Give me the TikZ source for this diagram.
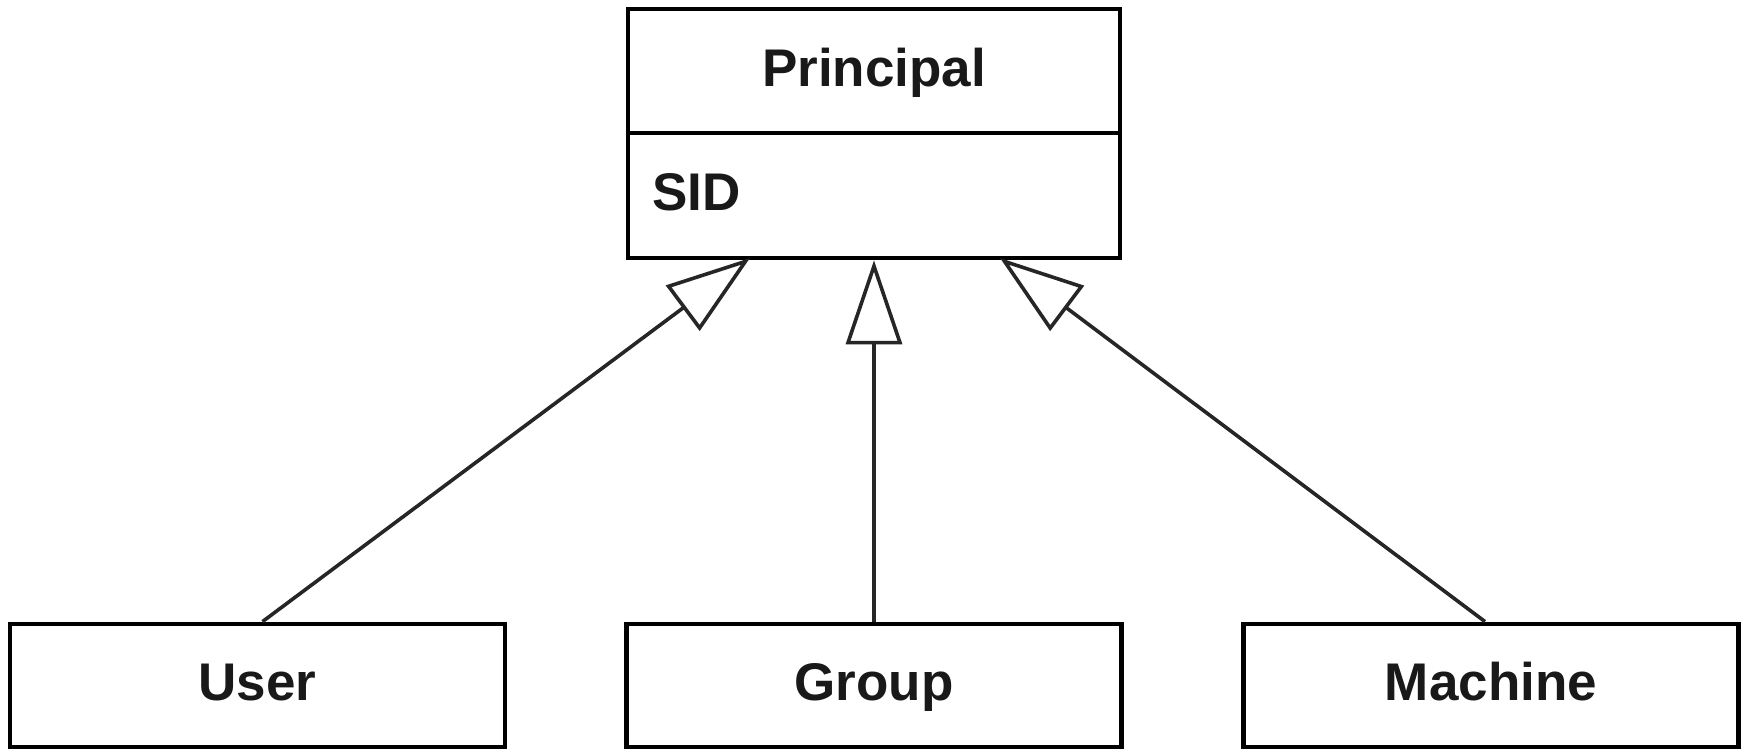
\documentclass[tikz,border=0pt]{standalone}
\usepackage{fontspec}
\setmainfont{Liberation Sans}
\usetikzlibrary{arrows.meta}
\begin{document}
\begin{tikzpicture}[x=0.5pt,y=-0.5pt,
  umlfont/.style={font=\bfseries\fontsize{26.5}{30}\selectfont, text=black!90},
  classbox/.style={draw=black, line width=2.4pt, fill=white, inner sep=0pt,
    minimum width=247.5pt, minimum height=61.5pt, umlfont,
    text height=19pt, text depth=4.5pt},
  inherits/.style={draw=black!85, line width=1.8pt,
    -{Triangle[length=42pt, width=28pt, fill=white]}}]
  % canvas
  \useasboundingbox (0,0) rectangle (1742,750);

  % superclass with one attribute compartment
  \node[draw=black, line width=2.4pt, fill=white, inner sep=0pt,
        minimum width=246pt, minimum height=124.5pt] (principal) at (874,133.5) {};
  \coordinate (divider) at (874,133);
  \draw[black, line width=2.4pt] (principal.west |- divider) -- (principal.east |- divider);
  \node[umlfont, anchor=base, inner sep=0pt] (ptitle) at (874,86) {Principal};
  \node[umlfont, anchor=base west, inner sep=0pt] (pattr) at (652,210) {SID};

  % subclasses
  \node[classbox] (user)    at (257.5,685.5) {User};
  \node[classbox] (group)   at (874,685.5)   {Group};
  \node[classbox] (machine) at (1491,685.5)  {Machine};

  % generalisation arrows
  \coordinate (tipU) at (750,258);
  \coordinate (tipM) at (1000,258);
  \draw[inherits] ([xshift=2.5pt]user.north) -- (tipU);
  \draw[inherits] (group.north) -- (principal.south);
  \draw[inherits] ([xshift=-3pt]machine.north) -- (tipM);
\end{tikzpicture}
\end{document}
